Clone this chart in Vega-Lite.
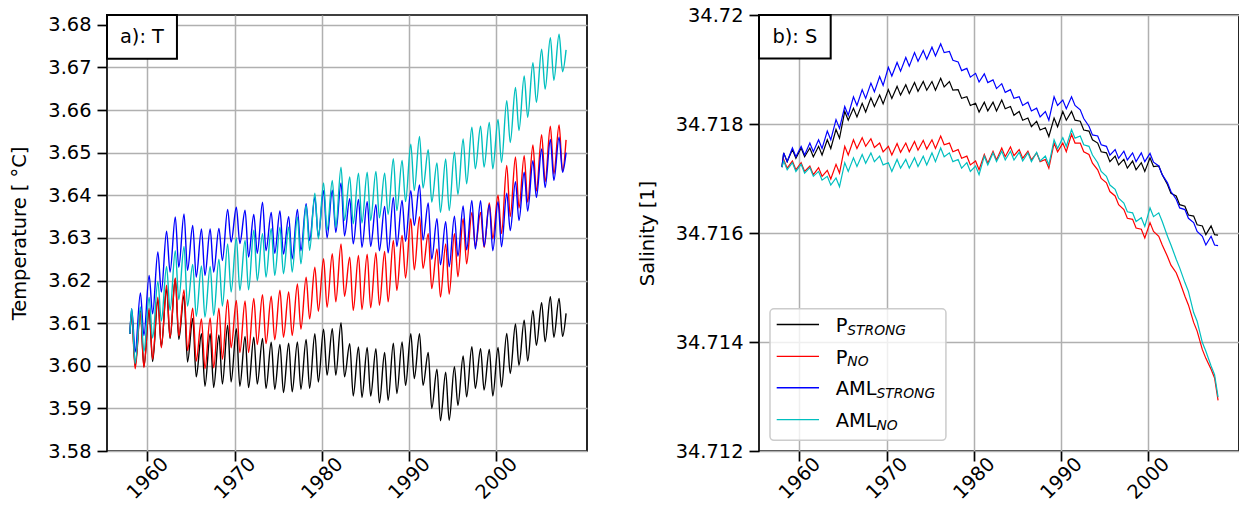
{
"$schema": "https://vega.github.io/schema/vega-lite/v6.json",
"background": "white",
"padding": {"left": 8, "top": 4, "right": 0, "bottom": 0},
"spacing": 48,
"config": {
  "font": "DejaVu Sans",
  "view": {"stroke": "#000000", "strokeWidth": 1.7},
  "axis": {"domain": false, "grid": true, "gridColor": "#b0b0b0", "gridWidth": 1.5, "tickColor": "#000000", "tickSize": 10, "tickWidth": 1.7, "labelFont": "DejaVu Sans", "labelFontSize": 19.4, "labelColor": "#000000", "titleFont": "DejaVu Sans", "titleFontSize": 19.4, "titleFontWeight": "normal", "titleColor": "#000000"},
  "axisX": {"labelAngle": -45, "labelAlign": "center", "labelBaseline": "middle", "labelPadding": 17},
  "axisY": {"labelPadding": 6, "titlePadding": 18}
},
"datasets": {
"temp": [
{"t":1958.0,"P_STRONG":3.6075,"P_NO":3.6075,"AML_STRONG":3.6075,"AML_NO":3.6075},
{"t":1958.2,"P_STRONG":3.6125,"P_NO":3.6120,"AML_STRONG":3.6134,"AML_NO":3.6134},
{"t":1958.6,"P_STRONG":3.6000,"P_NO":3.5993,"AML_STRONG":3.6032,"AML_NO":3.6005},
{"t":1959.2,"P_STRONG":3.6130,"P_NO":3.6125,"AML_STRONG":3.6171,"AML_NO":3.6138},
{"t":1959.6,"P_STRONG":3.5998,"P_NO":3.5996,"AML_STRONG":3.6071,"AML_NO":3.6033},
{"t":1960.2,"P_STRONG":3.6130,"P_NO":3.6135,"AML_STRONG":3.6212,"AML_NO":3.6160},
{"t":1960.6,"P_STRONG":3.6010,"P_NO":3.6015,"AML_STRONG":3.6122,"AML_NO":3.6065},
{"t":1961.2,"P_STRONG":3.6155,"P_NO":3.6161,"AML_STRONG":3.6267,"AML_NO":3.6198},
{"t":1961.6,"P_STRONG":3.6045,"P_NO":3.6042,"AML_STRONG":3.6173,"AML_NO":3.6105},
{"t":1962.2,"P_STRONG":3.6180,"P_NO":3.6189,"AML_STRONG":3.6316,"AML_NO":3.6233},
{"t":1962.6,"P_STRONG":3.6064,"P_NO":3.6066,"AML_STRONG":3.6220,"AML_NO":3.6130},
{"t":1963.2,"P_STRONG":3.6204,"P_NO":3.6206,"AML_STRONG":3.6349,"AML_NO":3.6270},
{"t":1963.6,"P_STRONG":3.6062,"P_NO":3.6070,"AML_STRONG":3.6231,"AML_NO":3.6155},
{"t":1964.2,"P_STRONG":3.6165,"P_NO":3.6178,"AML_STRONG":3.6356,"AML_NO":3.6280},
{"t":1964.6,"P_STRONG":3.6009,"P_NO":3.6036,"AML_STRONG":3.6224,"AML_NO":3.6140},
{"t":1965.2,"P_STRONG":3.6111,"P_NO":3.6135,"AML_STRONG":3.6329,"AML_NO":3.6238},
{"t":1965.6,"P_STRONG":3.5974,"P_NO":3.6011,"AML_STRONG":3.6208,"AML_NO":3.6116},
{"t":1966.2,"P_STRONG":3.6075,"P_NO":3.6110,"AML_STRONG":3.6321,"AML_NO":3.6234},
{"t":1966.6,"P_STRONG":3.5952,"P_NO":3.5993,"AML_STRONG":3.6212,"AML_NO":3.6114},
{"t":1967.2,"P_STRONG":3.6075,"P_NO":3.6112,"AML_STRONG":3.6321,"AML_NO":3.6233},
{"t":1967.6,"P_STRONG":3.5949,"P_NO":3.5995,"AML_STRONG":3.6220,"AML_NO":3.6118},
{"t":1968.2,"P_STRONG":3.6072,"P_NO":3.6135,"AML_STRONG":3.6322,"AML_NO":3.6250},
{"t":1968.6,"P_STRONG":3.5957,"P_NO":3.6015,"AML_STRONG":3.6247,"AML_NO":3.6140},
{"t":1969.2,"P_STRONG":3.6095,"P_NO":3.6155,"AML_STRONG":3.6367,"AML_NO":3.6286},
{"t":1969.6,"P_STRONG":3.5962,"P_NO":3.6042,"AML_STRONG":3.6290,"AML_NO":3.6173},
{"t":1970.2,"P_STRONG":3.6087,"P_NO":3.6153,"AML_STRONG":3.6372,"AML_NO":3.6300},
{"t":1970.6,"P_STRONG":3.5952,"P_NO":3.6031,"AML_STRONG":3.6287,"AML_NO":3.6177},
{"t":1971.2,"P_STRONG":3.6069,"P_NO":3.6152,"AML_STRONG":3.6365,"AML_NO":3.6294},
{"t":1971.6,"P_STRONG":3.5949,"P_NO":3.6031,"AML_STRONG":3.6255,"AML_NO":3.6178},
{"t":1972.2,"P_STRONG":3.6067,"P_NO":3.6158,"AML_STRONG":3.6355,"AML_NO":3.6318},
{"t":1972.6,"P_STRONG":3.5957,"P_NO":3.6050,"AML_STRONG":3.6264,"AML_NO":3.6200},
{"t":1973.2,"P_STRONG":3.6064,"P_NO":3.6167,"AML_STRONG":3.6384,"AML_NO":3.6310},
{"t":1973.6,"P_STRONG":3.5947,"P_NO":3.6052,"AML_STRONG":3.6270,"AML_NO":3.6208},
{"t":1974.2,"P_STRONG":3.6055,"P_NO":3.6163,"AML_STRONG":3.6360,"AML_NO":3.6322},
{"t":1974.6,"P_STRONG":3.5945,"P_NO":3.6061,"AML_STRONG":3.6264,"AML_NO":3.6212},
{"t":1975.2,"P_STRONG":3.6050,"P_NO":3.6177,"AML_STRONG":3.6363,"AML_NO":3.6325},
{"t":1975.6,"P_STRONG":3.5937,"P_NO":3.6067,"AML_STRONG":3.6262,"AML_NO":3.6216},
{"t":1976.2,"P_STRONG":3.6053,"P_NO":3.6173,"AML_STRONG":3.6350,"AML_NO":3.6325},
{"t":1976.6,"P_STRONG":3.5939,"P_NO":3.6071,"AML_STRONG":3.6251,"AML_NO":3.6220},
{"t":1977.2,"P_STRONG":3.6056,"P_NO":3.6192,"AML_STRONG":3.6367,"AML_NO":3.6349},
{"t":1977.6,"P_STRONG":3.5945,"P_NO":3.6086,"AML_STRONG":3.6270,"AML_NO":3.6239},
{"t":1978.2,"P_STRONG":3.6062,"P_NO":3.6208,"AML_STRONG":3.6380,"AML_NO":3.6376},
{"t":1978.6,"P_STRONG":3.5947,"P_NO":3.6110,"AML_STRONG":3.6294,"AML_NO":3.6271},
{"t":1979.2,"P_STRONG":3.6075,"P_NO":3.6231,"AML_STRONG":3.6395,"AML_NO":3.6405},
{"t":1979.6,"P_STRONG":3.5962,"P_NO":3.6128,"AML_STRONG":3.6303,"AML_NO":3.6298},
{"t":1980.2,"P_STRONG":3.6086,"P_NO":3.6251,"AML_STRONG":3.6411,"AML_NO":3.6429},
{"t":1980.6,"P_STRONG":3.5978,"P_NO":3.6137,"AML_STRONG":3.6300,"AML_NO":3.6318},
{"t":1981.2,"P_STRONG":3.6087,"P_NO":3.6263,"AML_STRONG":3.6412,"AML_NO":3.6435},
{"t":1981.6,"P_STRONG":3.5978,"P_NO":3.6150,"AML_STRONG":3.6313,"AML_NO":3.6325},
{"t":1982.2,"P_STRONG":3.6101,"P_NO":3.6286,"AML_STRONG":3.6429,"AML_NO":3.6466},
{"t":1982.6,"P_STRONG":3.5974,"P_NO":3.6163,"AML_STRONG":3.6305,"AML_NO":3.6341},
{"t":1983.2,"P_STRONG":3.6052,"P_NO":3.6255,"AML_STRONG":3.6392,"AML_NO":3.6443},
{"t":1983.6,"P_STRONG":3.5929,"P_NO":3.6130,"AML_STRONG":3.6286,"AML_NO":3.6333},
{"t":1984.2,"P_STRONG":3.6044,"P_NO":3.6259,"AML_STRONG":3.6390,"AML_NO":3.6452},
{"t":1984.6,"P_STRONG":3.5926,"P_NO":3.6132,"AML_STRONG":3.6278,"AML_NO":3.6335},
{"t":1985.2,"P_STRONG":3.6043,"P_NO":3.6262,"AML_STRONG":3.6385,"AML_NO":3.6454},
{"t":1985.6,"P_STRONG":3.5929,"P_NO":3.6136,"AML_STRONG":3.6280,"AML_NO":3.6341},
{"t":1986.2,"P_STRONG":3.6040,"P_NO":3.6265,"AML_STRONG":3.6378,"AML_NO":3.6456},
{"t":1986.6,"P_STRONG":3.5913,"P_NO":3.6142,"AML_STRONG":3.6270,"AML_NO":3.6347},
{"t":1987.2,"P_STRONG":3.6031,"P_NO":3.6268,"AML_STRONG":3.6374,"AML_NO":3.6452},
{"t":1987.6,"P_STRONG":3.5919,"P_NO":3.6150,"AML_STRONG":3.6265,"AML_NO":3.6355},
{"t":1988.2,"P_STRONG":3.6053,"P_NO":3.6294,"AML_STRONG":3.6395,"AML_NO":3.6486},
{"t":1988.6,"P_STRONG":3.5935,"P_NO":3.6177,"AML_STRONG":3.6280,"AML_NO":3.6364},
{"t":1989.2,"P_STRONG":3.6056,"P_NO":3.6306,"AML_STRONG":3.6388,"AML_NO":3.6482},
{"t":1989.6,"P_STRONG":3.5954,"P_NO":3.6206,"AML_STRONG":3.6292,"AML_NO":3.6385},
{"t":1990.2,"P_STRONG":3.6075,"P_NO":3.6345,"AML_STRONG":3.6411,"AML_NO":3.6520},
{"t":1990.6,"P_STRONG":3.5970,"P_NO":3.6225,"AML_STRONG":3.6329,"AML_NO":3.6411},
{"t":1991.2,"P_STRONG":3.6075,"P_NO":3.6350,"AML_STRONG":3.6424,"AML_NO":3.6538},
{"t":1991.6,"P_STRONG":3.5954,"P_NO":3.6228,"AML_STRONG":3.6295,"AML_NO":3.6417},
{"t":1992.2,"P_STRONG":3.6031,"P_NO":3.6310,"AML_STRONG":3.6382,"AML_NO":3.6507},
{"t":1992.6,"P_STRONG":3.5900,"P_NO":3.6181,"AML_STRONG":3.6250,"AML_NO":3.6384},
{"t":1993.2,"P_STRONG":3.5992,"P_NO":3.6274,"AML_STRONG":3.6345,"AML_NO":3.6476},
{"t":1993.6,"P_STRONG":3.5871,"P_NO":3.6161,"AML_STRONG":3.6237,"AML_NO":3.6360},
{"t":1994.2,"P_STRONG":3.5985,"P_NO":3.6286,"AML_STRONG":3.6338,"AML_NO":3.6485},
{"t":1994.6,"P_STRONG":3.5872,"P_NO":3.6168,"AML_STRONG":3.6232,"AML_NO":3.6364},
{"t":1995.2,"P_STRONG":3.5998,"P_NO":3.6310,"AML_STRONG":3.6351,"AML_NO":3.6501},
{"t":1995.6,"P_STRONG":3.5907,"P_NO":3.6209,"AML_STRONG":3.6257,"AML_NO":3.6402},
{"t":1996.2,"P_STRONG":3.6023,"P_NO":3.6345,"AML_STRONG":3.6375,"AML_NO":3.6532},
{"t":1996.6,"P_STRONG":3.5927,"P_NO":3.6239,"AML_STRONG":3.6272,"AML_NO":3.6427},
{"t":1997.2,"P_STRONG":3.6045,"P_NO":3.6360,"AML_STRONG":3.6388,"AML_NO":3.6560},
{"t":1997.6,"P_STRONG":3.5947,"P_NO":3.6280,"AML_STRONG":3.6274,"AML_NO":3.6462},
{"t":1998.2,"P_STRONG":3.6040,"P_NO":3.6360,"AML_STRONG":3.6387,"AML_NO":3.6562},
{"t":1998.6,"P_STRONG":3.5943,"P_NO":3.6278,"AML_STRONG":3.6280,"AML_NO":3.6466},
{"t":1999.2,"P_STRONG":3.6038,"P_NO":3.6382,"AML_STRONG":3.6378,"AML_NO":3.6571},
{"t":1999.6,"P_STRONG":3.5929,"P_NO":3.6298,"AML_STRONG":3.6270,"AML_NO":3.6462},
{"t":2000.2,"P_STRONG":3.6043,"P_NO":3.6400,"AML_STRONG":3.6385,"AML_NO":3.6578},
{"t":2000.6,"P_STRONG":3.5950,"P_NO":3.6310,"AML_STRONG":3.6279,"AML_NO":3.6477},
{"t":2001.2,"P_STRONG":3.6076,"P_NO":3.6470,"AML_STRONG":3.6405,"AML_NO":3.6622},
{"t":2001.6,"P_STRONG":3.5982,"P_NO":3.6350,"AML_STRONG":3.6317,"AML_NO":3.6524},
{"t":2002.2,"P_STRONG":3.6098,"P_NO":3.6490,"AML_STRONG":3.6432,"AML_NO":3.6653},
{"t":2002.6,"P_STRONG":3.6001,"P_NO":3.6370,"AML_STRONG":3.6341,"AML_NO":3.6552},
{"t":2003.2,"P_STRONG":3.6107,"P_NO":3.6493,"AML_STRONG":3.6454,"AML_NO":3.6680},
{"t":2003.6,"P_STRONG":3.6011,"P_NO":3.6384,"AML_STRONG":3.6363,"AML_NO":3.6583},
{"t":2004.2,"P_STRONG":3.6130,"P_NO":3.6518,"AML_STRONG":3.6481,"AML_NO":3.6711},
{"t":2004.6,"P_STRONG":3.6048,"P_NO":3.6410,"AML_STRONG":3.6395,"AML_NO":3.6618},
{"t":2005.2,"P_STRONG":3.6148,"P_NO":3.6542,"AML_STRONG":3.6509,"AML_NO":3.6743},
{"t":2005.6,"P_STRONG":3.6056,"P_NO":3.6432,"AML_STRONG":3.6418,"AML_NO":3.6649},
{"t":2006.2,"P_STRONG":3.6162,"P_NO":3.6562,"AML_STRONG":3.6531,"AML_NO":3.6770},
{"t":2006.6,"P_STRONG":3.6067,"P_NO":3.6450,"AML_STRONG":3.6435,"AML_NO":3.6670},
{"t":2007.2,"P_STRONG":3.6158,"P_NO":3.6565,"AML_STRONG":3.6536,"AML_NO":3.6778},
{"t":2007.6,"P_STRONG":3.6069,"P_NO":3.6456,"AML_STRONG":3.6454,"AML_NO":3.6690},
{"t":2008.0,"P_STRONG":3.6123,"P_NO":3.6530,"AML_STRONG":3.6500,"AML_NO":3.6741}
],
"sal": [
{"t":1958.0,"P_STRONG":34.71721,"P_NO":34.71721,"AML_STRONG":34.71721,"AML_NO":34.71721},
{"t":1958.2,"P_STRONG":34.71747,"P_NO":34.71735,"AML_STRONG":34.71747,"AML_NO":34.71732},
{"t":1958.6,"P_STRONG":34.71731,"P_NO":34.71719,"AML_STRONG":34.71731,"AML_NO":34.71716},
{"t":1959.2,"P_STRONG":34.71753,"P_NO":34.71732,"AML_STRONG":34.71756,"AML_NO":34.71729},
{"t":1959.6,"P_STRONG":34.71737,"P_NO":34.71716,"AML_STRONG":34.71740,"AML_NO":34.71713},
{"t":1960.2,"P_STRONG":34.71756,"P_NO":34.71729,"AML_STRONG":34.71759,"AML_NO":34.71726},
{"t":1960.6,"P_STRONG":34.71740,"P_NO":34.71713,"AML_STRONG":34.71743,"AML_NO":34.71710},
{"t":1961.2,"P_STRONG":34.71756,"P_NO":34.71723,"AML_STRONG":34.71765,"AML_NO":34.71720},
{"t":1961.6,"P_STRONG":34.71740,"P_NO":34.71707,"AML_STRONG":34.71749,"AML_NO":34.71704},
{"t":1962.2,"P_STRONG":34.71759,"P_NO":34.71720,"AML_STRONG":34.71771,"AML_NO":34.71713},
{"t":1962.6,"P_STRONG":34.71743,"P_NO":34.71704,"AML_STRONG":34.71755,"AML_NO":34.71697},
{"t":1963.2,"P_STRONG":34.71771,"P_NO":34.71715,"AML_STRONG":34.71787,"AML_NO":34.71704},
{"t":1963.6,"P_STRONG":34.71755,"P_NO":34.71699,"AML_STRONG":34.71771,"AML_NO":34.71688},
{"t":1964.2,"P_STRONG":34.71790,"P_NO":34.71726,"AML_STRONG":34.71808,"AML_NO":34.71701},
{"t":1964.6,"P_STRONG":34.71774,"P_NO":34.71710,"AML_STRONG":34.71792,"AML_NO":34.71685},
{"t":1965.2,"P_STRONG":34.71823,"P_NO":34.71759,"AML_STRONG":34.71832,"AML_NO":34.71729},
{"t":1965.6,"P_STRONG":34.71807,"P_NO":34.71743,"AML_STRONG":34.71816,"AML_NO":34.71713},
{"t":1966.2,"P_STRONG":34.71829,"P_NO":34.71771,"AML_STRONG":34.71850,"AML_NO":34.71738},
{"t":1966.6,"P_STRONG":34.71813,"P_NO":34.71755,"AML_STRONG":34.71834,"AML_NO":34.71722},
{"t":1967.2,"P_STRONG":34.71838,"P_NO":34.71775,"AML_STRONG":34.71863,"AML_NO":34.71744},
{"t":1967.6,"P_STRONG":34.71822,"P_NO":34.71759,"AML_STRONG":34.71847,"AML_NO":34.71728},
{"t":1968.2,"P_STRONG":34.71848,"P_NO":34.71773,"AML_STRONG":34.71875,"AML_NO":34.71747},
{"t":1968.6,"P_STRONG":34.71832,"P_NO":34.71757,"AML_STRONG":34.71859,"AML_NO":34.71731},
{"t":1969.2,"P_STRONG":34.71853,"P_NO":34.71765,"AML_STRONG":34.71887,"AML_NO":34.71741},
{"t":1969.6,"P_STRONG":34.71837,"P_NO":34.71749,"AML_STRONG":34.71871,"AML_NO":34.71725},
{"t":1970.2,"P_STRONG":34.71863,"P_NO":34.71759,"AML_STRONG":34.71904,"AML_NO":34.71729},
{"t":1970.6,"P_STRONG":34.71847,"P_NO":34.71743,"AML_STRONG":34.71888,"AML_NO":34.71713},
{"t":1971.2,"P_STRONG":34.71869,"P_NO":34.71764,"AML_STRONG":34.71913,"AML_NO":34.71735},
{"t":1971.6,"P_STRONG":34.71853,"P_NO":34.71748,"AML_STRONG":34.71897,"AML_NO":34.71719},
{"t":1972.2,"P_STRONG":34.71872,"P_NO":34.71765,"AML_STRONG":34.71922,"AML_NO":34.71735},
{"t":1972.6,"P_STRONG":34.71856,"P_NO":34.71749,"AML_STRONG":34.71906,"AML_NO":34.71719},
{"t":1973.2,"P_STRONG":34.71876,"P_NO":34.71768,"AML_STRONG":34.71931,"AML_NO":34.71738},
{"t":1973.6,"P_STRONG":34.71860,"P_NO":34.71752,"AML_STRONG":34.71915,"AML_NO":34.71722},
{"t":1974.2,"P_STRONG":34.71878,"P_NO":34.71770,"AML_STRONG":34.71935,"AML_NO":34.71741},
{"t":1974.6,"P_STRONG":34.71862,"P_NO":34.71754,"AML_STRONG":34.71919,"AML_NO":34.71725},
{"t":1975.2,"P_STRONG":34.71878,"P_NO":34.71771,"AML_STRONG":34.71941,"AML_NO":34.71747},
{"t":1975.6,"P_STRONG":34.71862,"P_NO":34.71755,"AML_STRONG":34.71925,"AML_NO":34.71731},
{"t":1976.2,"P_STRONG":34.71884,"P_NO":34.71778,"AML_STRONG":34.71947,"AML_NO":34.71756},
{"t":1976.6,"P_STRONG":34.71868,"P_NO":34.71762,"AML_STRONG":34.71931,"AML_NO":34.71740},
{"t":1977.2,"P_STRONG":34.71878,"P_NO":34.71765,"AML_STRONG":34.71933,"AML_NO":34.71747},
{"t":1977.6,"P_STRONG":34.71862,"P_NO":34.71749,"AML_STRONG":34.71917,"AML_NO":34.71731},
{"t":1978.2,"P_STRONG":34.71863,"P_NO":34.71753,"AML_STRONG":34.71914,"AML_NO":34.71735},
{"t":1978.6,"P_STRONG":34.71847,"P_NO":34.71737,"AML_STRONG":34.71898,"AML_NO":34.71719},
{"t":1979.2,"P_STRONG":34.71850,"P_NO":34.71741,"AML_STRONG":34.71902,"AML_NO":34.71729},
{"t":1979.6,"P_STRONG":34.71834,"P_NO":34.71725,"AML_STRONG":34.71886,"AML_NO":34.71713},
{"t":1980.2,"P_STRONG":34.71838,"P_NO":34.71732,"AML_STRONG":34.71893,"AML_NO":34.71723},
{"t":1980.6,"P_STRONG":34.71822,"P_NO":34.71716,"AML_STRONG":34.71877,"AML_NO":34.71707},
{"t":1981.2,"P_STRONG":34.71840,"P_NO":34.71744,"AML_STRONG":34.71892,"AML_NO":34.71741},
{"t":1981.6,"P_STRONG":34.71824,"P_NO":34.71728,"AML_STRONG":34.71876,"AML_NO":34.71725},
{"t":1982.2,"P_STRONG":34.71840,"P_NO":34.71750,"AML_STRONG":34.71881,"AML_NO":34.71747},
{"t":1982.6,"P_STRONG":34.71824,"P_NO":34.71734,"AML_STRONG":34.71865,"AML_NO":34.71731},
{"t":1983.2,"P_STRONG":34.71844,"P_NO":34.71756,"AML_STRONG":34.71874,"AML_NO":34.71750},
{"t":1983.6,"P_STRONG":34.71828,"P_NO":34.71740,"AML_STRONG":34.71858,"AML_NO":34.71734},
{"t":1984.2,"P_STRONG":34.71832,"P_NO":34.71758,"AML_STRONG":34.71863,"AML_NO":34.71750},
{"t":1984.6,"P_STRONG":34.71816,"P_NO":34.71742,"AML_STRONG":34.71847,"AML_NO":34.71734},
{"t":1985.2,"P_STRONG":34.71823,"P_NO":34.71753,"AML_STRONG":34.71850,"AML_NO":34.71748},
{"t":1985.6,"P_STRONG":34.71807,"P_NO":34.71737,"AML_STRONG":34.71834,"AML_NO":34.71732},
{"t":1986.2,"P_STRONG":34.71811,"P_NO":34.71750,"AML_STRONG":34.71840,"AML_NO":34.71747},
{"t":1986.6,"P_STRONG":34.71795,"P_NO":34.71734,"AML_STRONG":34.71824,"AML_NO":34.71731},
{"t":1987.2,"P_STRONG":34.71805,"P_NO":34.71747,"AML_STRONG":34.71829,"AML_NO":34.71748},
{"t":1987.6,"P_STRONG":34.71789,"P_NO":34.71731,"AML_STRONG":34.71813,"AML_NO":34.71732},
{"t":1988.2,"P_STRONG":34.71793,"P_NO":34.71735,"AML_STRONG":34.71823,"AML_NO":34.71741},
{"t":1988.6,"P_STRONG":34.71777,"P_NO":34.71719,"AML_STRONG":34.71807,"AML_NO":34.71725},
{"t":1989.2,"P_STRONG":34.71811,"P_NO":34.71765,"AML_STRONG":34.71850,"AML_NO":34.71771},
{"t":1989.6,"P_STRONG":34.71795,"P_NO":34.71749,"AML_STRONG":34.71834,"AML_NO":34.71755},
{"t":1990.2,"P_STRONG":34.71823,"P_NO":34.71765,"AML_STRONG":34.71844,"AML_NO":34.71775},
{"t":1990.6,"P_STRONG":34.71807,"P_NO":34.71749,"AML_STRONG":34.71828,"AML_NO":34.71759},
{"t":1991.2,"P_STRONG":34.71823,"P_NO":34.71781,"AML_STRONG":34.71850,"AML_NO":34.71790},
{"t":1991.6,"P_STRONG":34.71807,"P_NO":34.71765,"AML_STRONG":34.71834,"AML_NO":34.71774},
{"t":1992.2,"P_STRONG":34.71805,"P_NO":34.71765,"AML_STRONG":34.71826,"AML_NO":34.71778},
{"t":1992.6,"P_STRONG":34.71789,"P_NO":34.71749,"AML_STRONG":34.71810,"AML_NO":34.71762},
{"t":1993.2,"P_STRONG":34.71787,"P_NO":34.71744,"AML_STRONG":34.71796,"AML_NO":34.71759},
{"t":1993.6,"P_STRONG":34.71771,"P_NO":34.71728,"AML_STRONG":34.71780,"AML_NO":34.71743},
{"t":1994.2,"P_STRONG":34.71765,"P_NO":34.71716,"AML_STRONG":34.71778,"AML_NO":34.71729},
{"t":1994.6,"P_STRONG":34.71749,"P_NO":34.71700,"AML_STRONG":34.71762,"AML_NO":34.71713},
{"t":1995.2,"P_STRONG":34.71747,"P_NO":34.71692,"AML_STRONG":34.71759,"AML_NO":34.71704},
{"t":1995.6,"P_STRONG":34.71731,"P_NO":34.71676,"AML_STRONG":34.71743,"AML_NO":34.71688},
{"t":1996.2,"P_STRONG":34.71741,"P_NO":34.71668,"AML_STRONG":34.71753,"AML_NO":34.71680},
{"t":1996.6,"P_STRONG":34.71725,"P_NO":34.71652,"AML_STRONG":34.71737,"AML_NO":34.71664},
{"t":1997.2,"P_STRONG":34.71735,"P_NO":34.71643,"AML_STRONG":34.71750,"AML_NO":34.71655},
{"t":1997.6,"P_STRONG":34.71719,"P_NO":34.71627,"AML_STRONG":34.71734,"AML_NO":34.71639},
{"t":1998.2,"P_STRONG":34.71732,"P_NO":34.71625,"AML_STRONG":34.71747,"AML_NO":34.71637},
{"t":1998.6,"P_STRONG":34.71716,"P_NO":34.71609,"AML_STRONG":34.71731,"AML_NO":34.71621},
{"t":1999.2,"P_STRONG":34.71729,"P_NO":34.71607,"AML_STRONG":34.71747,"AML_NO":34.71628},
{"t":1999.6,"P_STRONG":34.71713,"P_NO":34.71591,"AML_STRONG":34.71731,"AML_NO":34.71612},
{"t":2000.2,"P_STRONG":34.71738,"P_NO":34.71619,"AML_STRONG":34.71746,"AML_NO":34.71646},
{"t":2000.6,"P_STRONG":34.71722,"P_NO":34.71603,"AML_STRONG":34.71730,"AML_NO":34.71630},
{"t":2001.2,"P_STRONG":34.71723,"P_NO":34.71594,"AML_STRONG":34.71723,"AML_NO":34.71637},
{"t":2001.6,"P_STRONG":34.71707,"P_NO":34.71578,"AML_STRONG":34.71707,"AML_NO":34.71621},
{"t":2002.2,"P_STRONG":34.71689,"P_NO":34.71557,"AML_STRONG":34.71692,"AML_NO":34.71594},
{"t":2002.6,"P_STRONG":34.71673,"P_NO":34.71541,"AML_STRONG":34.71676,"AML_NO":34.71578},
{"t":2003.2,"P_STRONG":34.71668,"P_NO":34.71527,"AML_STRONG":34.71662,"AML_NO":34.71552},
{"t":2003.6,"P_STRONG":34.71652,"P_NO":34.71511,"AML_STRONG":34.71646,"AML_NO":34.71536},
{"t":2004.2,"P_STRONG":34.71649,"P_NO":34.71484,"AML_STRONG":34.71643,"AML_NO":34.71509},
{"t":2004.6,"P_STRONG":34.71633,"P_NO":34.71468,"AML_STRONG":34.71627,"AML_NO":34.71493},
{"t":2005.2,"P_STRONG":34.71631,"P_NO":34.71436,"AML_STRONG":34.71619,"AML_NO":34.71454},
{"t":2005.6,"P_STRONG":34.71615,"P_NO":34.71420,"AML_STRONG":34.71603,"AML_NO":34.71438},
{"t":2006.2,"P_STRONG":34.71613,"P_NO":34.71386,"AML_STRONG":34.71594,"AML_NO":34.71399},
{"t":2006.6,"P_STRONG":34.71597,"P_NO":34.71370,"AML_STRONG":34.71578,"AML_NO":34.71383},
{"t":2007.2,"P_STRONG":34.71613,"P_NO":34.71350,"AML_STRONG":34.71594,"AML_NO":34.71356},
{"t":2007.6,"P_STRONG":34.71597,"P_NO":34.71334,"AML_STRONG":34.71578,"AML_NO":34.71340},
{"t":2008.0,"P_STRONG":34.71596,"P_NO":34.71293,"AML_STRONG":34.71577,"AML_NO":34.71299}
]
},
"hconcat": [
{
  "width": 480, "height": 436,
  "layer": [
    {
      "data": {"name": "temp"},
      "transform": [{"fold": ["P_STRONG", "P_NO", "AML_STRONG", "AML_NO"], "as": ["series", "value"]}],
      "encoding": {
        "x": {"field": "t", "type": "quantitative", "title": null, "scale": {"domain": [1955.37, 2010.4], "nice": false, "zero": false}, "axis": {"values": [1960, 1970, 1980, 1990, 2000], "format": "d"}},
        "y": {"field": "value", "type": "quantitative", "title": "Temperature [ °C]", "scale": {"domain": [3.58, 3.6823], "nice": false, "zero": false}, "axis": {"values": [3.58, 3.59, 3.6, 3.61, 3.62, 3.63, 3.64, 3.65, 3.66, 3.67, 3.68], "format": ".2f"}}
      },
      "layer": [
        {"transform": [{"filter": "datum.series === 'P_STRONG'"}], "mark": {"type": "line", "color": "#000000", "strokeWidth": 1.4, "interpolate": "monotone"}},
        {"transform": [{"filter": "datum.series === 'P_NO'"}], "mark": {"type": "line", "color": "#ff0000", "strokeWidth": 1.4, "interpolate": "monotone"}},
        {"transform": [{"filter": "datum.series === 'AML_STRONG'"}], "mark": {"type": "line", "color": "#0000ff", "strokeWidth": 1.4, "interpolate": "monotone"}},
        {"transform": [{"filter": "datum.series === 'AML_NO'"}], "mark": {"type": "line", "color": "#00bfbf", "strokeWidth": 1.4, "interpolate": "monotone"}}
      ]
    },
    {
      "data": {"values": [{}]},
      "mark": {"type": "rect", "fill": "#ffffff", "stroke": "#000000", "strokeWidth": 2},
      "encoding": {
        "x": {"datum": 1955.37, "type": "quantitative", "title": null},
        "x2": {"datum": 1963.39},
        "y": {"datum": 3.6823, "type": "quantitative", "title": "Temperature [ °C]"},
        "y2": {"datum": 3.67205}
      }
    },
    {
      "data": {"values": [{}]},
      "mark": {"type": "text", "align": "center", "baseline": "middle", "fontSize": 19.4, "color": "#000000", "font": "DejaVu Sans"},
      "encoding": {
        "x": {"datum": 1959.38, "type": "quantitative", "title": null},
        "y": {"datum": 3.6772, "type": "quantitative", "title": "Temperature [ °C]"},
        "text": {"value": "a): T"}
      }
    }
  ]
},
{
  "width": 480, "height": 436,
  "layer": [
    {
      "data": {"name": "sal"},
      "transform": [{"fold": ["P_STRONG", "P_NO", "AML_STRONG", "AML_NO"], "as": ["series", "value"]}],
      "encoding": {
        "x": {"field": "t", "type": "quantitative", "title": null, "scale": {"domain": [1955.37, 2010.4], "nice": false, "zero": false}, "axis": {"values": [1960, 1970, 1980, 1990, 2000], "format": "d"}},
        "y": {"field": "value", "type": "quantitative", "title": "Salinity [1]", "scale": {"domain": [34.712, 34.72], "nice": false, "zero": false}, "axis": {"values": [34.712, 34.714, 34.716, 34.718, 34.72], "format": ".3~f"}}
      },
      "layer": [
        {"transform": [{"filter": "datum.series === 'P_STRONG'"}], "mark": {"type": "line", "color": "#000000", "strokeWidth": 1.2}},
        {"transform": [{"filter": "datum.series === 'P_NO'"}], "mark": {"type": "line", "color": "#ff0000", "strokeWidth": 1.2}},
        {"transform": [{"filter": "datum.series === 'AML_STRONG'"}], "mark": {"type": "line", "color": "#0000ff", "strokeWidth": 1.2}},
        {"transform": [{"filter": "datum.series === 'AML_NO'"}], "mark": {"type": "line", "color": "#00bfbf", "strokeWidth": 1.2}}
      ]
    },
    {
      "data": {"values": [{}]},
      "mark": {"type": "rect", "fill": "#ffffff", "stroke": "#000000", "strokeWidth": 2},
      "encoding": {
        "x": {"datum": 1955.37, "type": "quantitative", "title": null},
        "x2": {"datum": 1963.59},
        "y": {"datum": 34.72, "type": "quantitative", "title": "Salinity [1]"},
        "y2": {"datum": 34.7192}
      }
    },
    {
      "data": {"values": [{}]},
      "mark": {"type": "text", "align": "center", "baseline": "middle", "fontSize": 19.4, "color": "#000000", "font": "DejaVu Sans"},
      "encoding": {
        "x": {"datum": 1959.48, "type": "quantitative", "title": null},
        "y": {"datum": 34.7196, "type": "quantitative", "title": "Salinity [1]"},
        "text": {"value": "b): S"}
      }
    },
    {
      "data": {"values": [{}]},
      "mark": {"type": "rect", "fill": "#ffffff", "fillOpacity": 0.8, "stroke": "#cccccc", "strokeWidth": 1.5, "cornerRadius": 4},
      "encoding": {
        "x": {"datum": 1956.63, "type": "quantitative", "title": null},
        "x2": {"datum": 1976.8},
        "y": {"datum": 34.714609, "type": "quantitative", "title": "Salinity [1]"},
        "y2": {"datum": 34.712196}
      }
    },
    {"data": {"values": [{}]}, "mark": {"type": "rule", "color": "#000000", "strokeWidth": 1.3},
     "encoding": {"x": {"datum": 1957.4, "type": "quantitative", "title": null}, "x2": {"datum": 1962.25}, "y": {"datum": 34.714321, "type": "quantitative", "title": "Salinity [1]"}}},
    {"data": {"values": [{}]}, "mark": {"type": "rule", "color": "#ff0000", "strokeWidth": 1.3},
     "encoding": {"x": {"datum": 1957.4, "type": "quantitative", "title": null}, "x2": {"datum": 1962.25}, "y": {"datum": 34.713735, "type": "quantitative", "title": "Salinity [1]"}}},
    {"data": {"values": [{}]}, "mark": {"type": "rule", "color": "#0000ff", "strokeWidth": 1.3},
     "encoding": {"x": {"datum": 1957.4, "type": "quantitative", "title": null}, "x2": {"datum": 1962.25}, "y": {"datum": 34.713161, "type": "quantitative", "title": "Salinity [1]"}}},
    {"data": {"values": [{}]}, "mark": {"type": "rule", "color": "#00bfbf", "strokeWidth": 1.3},
     "encoding": {"x": {"datum": 1957.4, "type": "quantitative", "title": null}, "x2": {"datum": 1962.25}, "y": {"datum": 34.712575, "type": "quantitative", "title": "Salinity [1]"}}},
    {"data": {"values": [{}]}, "mark": {"type": "text", "align": "left", "baseline": "alphabetic", "dy": 7.5, "fontSize": 19.4, "color": "#000000", "font": "DejaVu Sans"},
     "encoding": {"x": {"datum": 1964.16, "type": "quantitative", "title": null}, "y": {"datum": 34.714321, "type": "quantitative", "title": "Salinity [1]"}, "text": {"value": "P"}}},
    {"data": {"values": [{}]}, "mark": {"type": "text", "align": "left", "baseline": "alphabetic", "dy": 7.5, "fontSize": 19.4, "color": "#000000", "font": "DejaVu Sans"},
     "encoding": {"x": {"datum": 1964.16, "type": "quantitative", "title": null}, "y": {"datum": 34.713735, "type": "quantitative", "title": "Salinity [1]"}, "text": {"value": "P"}}},
    {"data": {"values": [{}]}, "mark": {"type": "text", "align": "left", "baseline": "alphabetic", "dy": 7.5, "fontSize": 19.4, "color": "#000000", "font": "DejaVu Sans"},
     "encoding": {"x": {"datum": 1964.16, "type": "quantitative", "title": null}, "y": {"datum": 34.713161, "type": "quantitative", "title": "Salinity [1]"}, "text": {"value": "AML"}}},
    {"data": {"values": [{}]}, "mark": {"type": "text", "align": "left", "baseline": "alphabetic", "dy": 7.5, "fontSize": 19.4, "color": "#000000", "font": "DejaVu Sans"},
     "encoding": {"x": {"datum": 1964.16, "type": "quantitative", "title": null}, "y": {"datum": 34.712575, "type": "quantitative", "title": "Salinity [1]"}, "text": {"value": "AML"}}},
    {"data": {"values": [{}]}, "mark": {"type": "text", "align": "left", "baseline": "alphabetic", "dy": 10, "fontSize": 13.8, "fontStyle": "italic", "color": "#000000", "font": "DejaVu Sans"},
     "encoding": {"x": {"datum": 1965.5, "type": "quantitative", "title": null}, "y": {"datum": 34.714321, "type": "quantitative", "title": "Salinity [1]"}, "text": {"value": "STRONG"}}},
    {"data": {"values": [{}]}, "mark": {"type": "text", "align": "left", "baseline": "alphabetic", "dy": 10, "fontSize": 13.8, "fontStyle": "italic", "color": "#000000", "font": "DejaVu Sans"},
     "encoding": {"x": {"datum": 1965.5, "type": "quantitative", "title": null}, "y": {"datum": 34.713735, "type": "quantitative", "title": "Salinity [1]"}, "text": {"value": "NO"}}},
    {"data": {"values": [{}]}, "mark": {"type": "text", "align": "left", "baseline": "alphabetic", "dy": 10, "fontSize": 13.8, "fontStyle": "italic", "color": "#000000", "font": "DejaVu Sans"},
     "encoding": {"x": {"datum": 1968.84, "type": "quantitative", "title": null}, "y": {"datum": 34.713161, "type": "quantitative", "title": "Salinity [1]"}, "text": {"value": "STRONG"}}},
    {"data": {"values": [{}]}, "mark": {"type": "text", "align": "left", "baseline": "alphabetic", "dy": 10, "fontSize": 13.8, "fontStyle": "italic", "color": "#000000", "font": "DejaVu Sans"},
     "encoding": {"x": {"datum": 1968.84, "type": "quantitative", "title": null}, "y": {"datum": 34.712575, "type": "quantitative", "title": "Salinity [1]"}, "text": {"value": "NO"}}}
  ]
}
]
}
